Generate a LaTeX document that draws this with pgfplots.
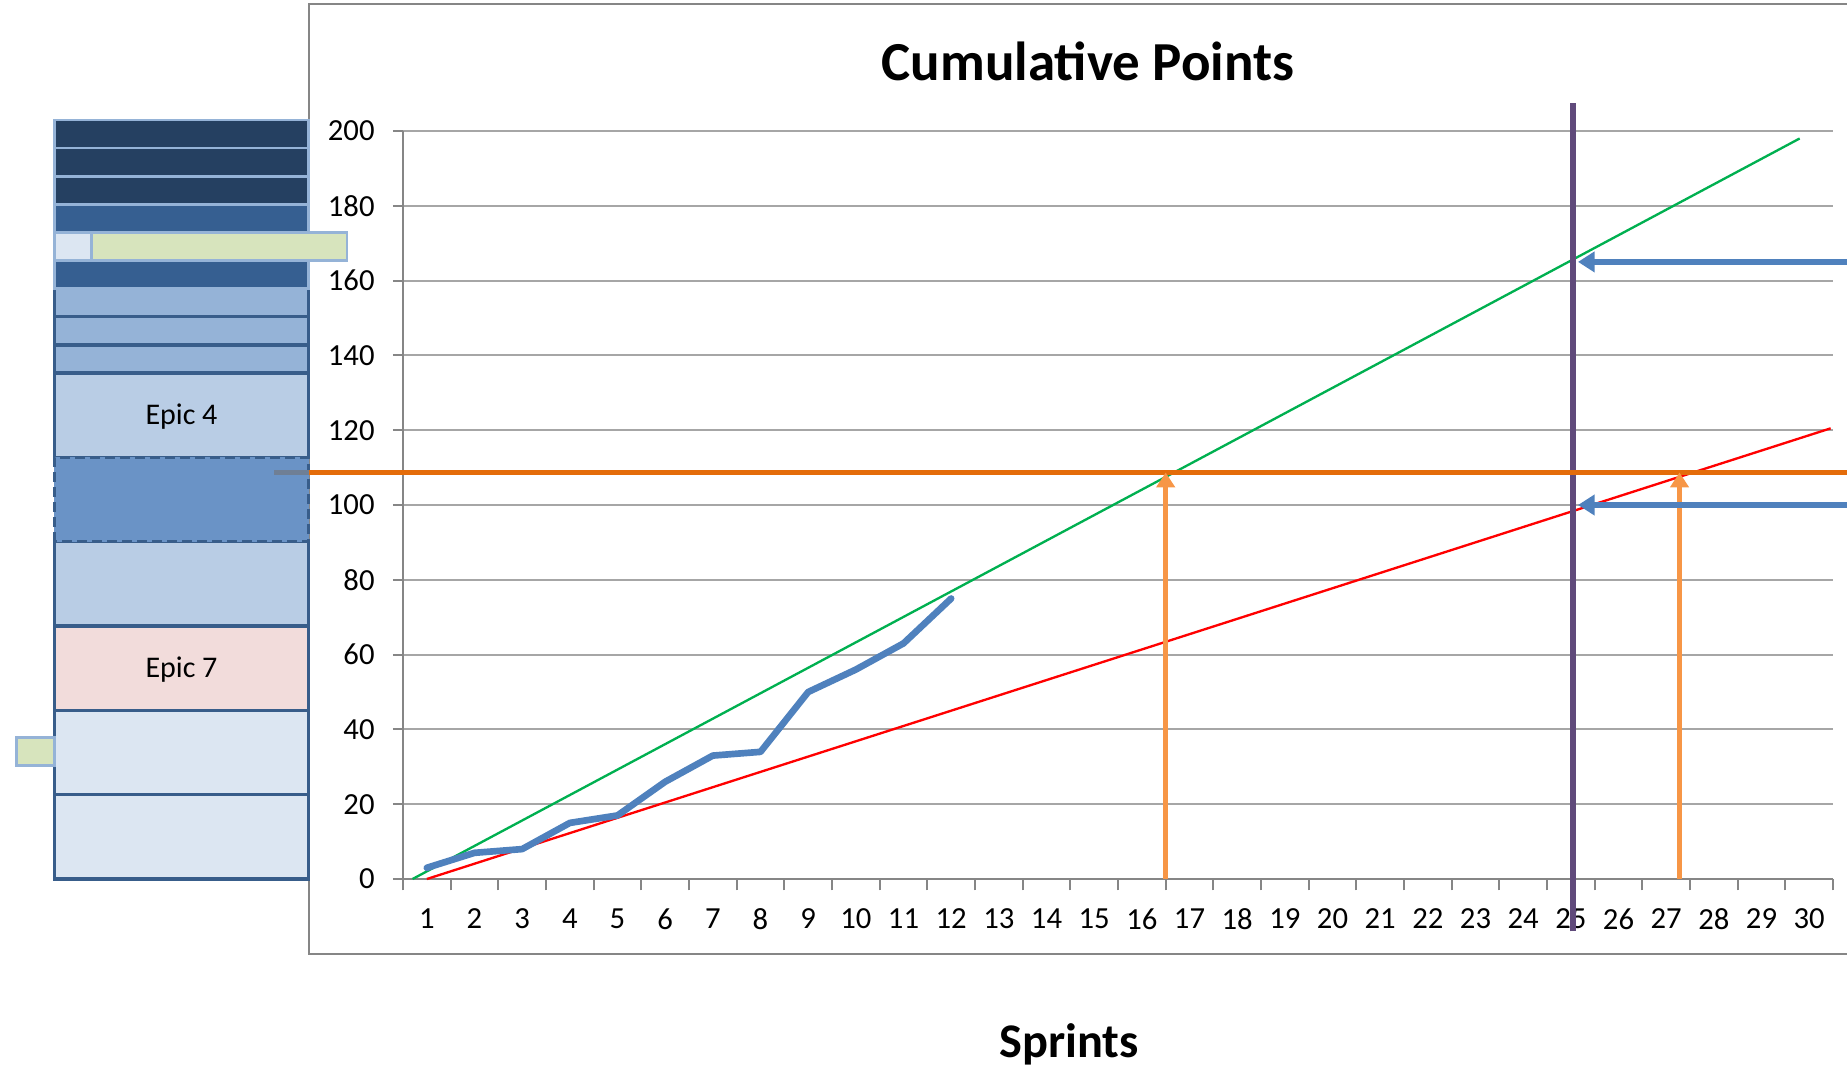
\documentclass[border=0pt]{standalone}
\usepackage{fontspec}
\setmainfont{Carlito}
\usepackage{pgfplots}
\pgfplotsset{compat=1.18}
\usetikzlibrary{arrows.meta}

\definecolor{framegray}{HTML}{868686}
\definecolor{gridgray}{HTML}{A6A6A6}
\definecolor{xlblue}{HTML}{4F81BD}
\definecolor{xlgreen}{HTML}{00B050}
\definecolor{xlred}{HTML}{FF0000}
\definecolor{xlorange}{HTML}{E46C0A}
\definecolor{xlorangelt}{HTML}{F79646}
\definecolor{xlpurple}{HTML}{604A7B}
\definecolor{navy}{HTML}{254061}
\definecolor{darkblue}{HTML}{365F91}
\definecolor{midblue}{HTML}{95B3D7}
\definecolor{ltblue}{HTML}{B9CDE5}
\definecolor{paleblue}{HTML}{DCE6F2}
\definecolor{dashblue}{HTML}{6A93C6}
\definecolor{pink}{HTML}{F2DCDB}
\definecolor{ltgreen}{HTML}{D7E4BD}
\definecolor{edgedark}{HTML}{385D8A}
\definecolor{connector}{HTML}{6F7F95}

\begin{document}
\begin{tikzpicture}
  % chart frame
  \draw[framegray, line width=0.6pt] (92.6pt,33.6pt) rectangle (620pt,318.75pt);

  \begin{axis}[
      at={(120.9pt,56.1pt)}, anchor=south west,
      scale only axis, width=429pt, height=224.4pt,
      xmin=0.5, xmax=30.5, ymin=0, ymax=200,
      enlargelimits=false, clip=false,
      axis x line=bottom, axis y line=left,
      axis line style={-, draw=framegray, line width=0.6pt},
      xtick={1,...,30},
      minor xtick={0.5,1.5,...,30.5},
      ytick={0,20,...,200},
      ymajorgrids,
      grid style={gridgray, line width=0.6pt},
      tick align=outside,
      tick style={framegray, line width=0.6pt},
      major tick length=3pt,
      minor tick length=3.4pt,
      every major x tick/.append style={draw=none},
      tick label style={font=\fontsize{9.2}{11}\selectfont, text=black},
      /pgf/number format/assume math mode=true,
      xticklabel style={yshift=-2.4pt},
      yticklabel style={xshift=-2pt},
    ]

    % left backlog stack
    \def\xL{-6.815}
    \def\xR{-1.479}
    \filldraw[fill=paleblue, draw=edgedark, line width=1pt] (axis cs:\xL,0) rectangle (axis cs:\xR,22.55);
    \filldraw[fill=paleblue, draw=edgedark, line width=1pt] (axis cs:\xL,22.55) rectangle (axis cs:\xR,45.1);
    \filldraw[fill=pink, draw=edgedark, line width=1pt] (axis cs:\xL,45.1) rectangle (axis cs:\xR,67.65);
    \filldraw[fill=ltblue, draw=edgedark, line width=1pt] (axis cs:\xL,67.65) rectangle (axis cs:\xR,90.2);
    \filldraw[fill=ltblue, draw=edgedark, line width=1pt] (axis cs:\xL,112.75) rectangle (axis cs:\xR,135.3);
    \filldraw[fill=dashblue, draw=edgedark, line width=1pt, dash pattern=on 3pt off 1.5pt] (axis cs:\xL,90.2) rectangle (axis cs:\xR,112.75);
    \filldraw[fill=midblue, draw=edgedark, line width=1pt] (axis cs:\xL,135.3) rectangle (axis cs:\xR,142.82);
    \filldraw[fill=midblue, draw=edgedark, line width=1pt] (axis cs:\xL,142.82) rectangle (axis cs:\xR,150.33);
    \filldraw[fill=midblue, draw=edgedark, line width=1pt] (axis cs:\xL,150.33) rectangle (axis cs:\xR,157.85);
    \filldraw[fill=darkblue, draw=midblue, line width=0.8pt] (axis cs:\xL,157.85) rectangle (axis cs:\xR,165.37);
    \filldraw[fill=darkblue, draw=midblue, line width=0.8pt] (axis cs:\xL,172.88) rectangle (axis cs:\xR,180.4);
    \filldraw[fill=navy, draw=midblue, line width=0.8pt] (axis cs:\xL,180.4) rectangle (axis cs:\xR,187.92);
    \filldraw[fill=navy, draw=midblue, line width=0.8pt] (axis cs:\xL,187.92) rectangle (axis cs:\xR,195.43);
    \filldraw[fill=navy, draw=midblue, line width=0.8pt] (axis cs:\xL,195.43) rectangle (axis cs:\xR,202.95);
    \filldraw[fill=paleblue, draw=midblue, line width=0.8pt] (axis cs:\xL,165.37) rectangle (axis cs:-6.04,172.88);
    \filldraw[fill=ltgreen, draw=midblue, line width=0.8pt] (axis cs:-6.04,165.37) rectangle (axis cs:-0.674,172.88);
    \filldraw[fill=ltgreen, draw=midblue, line width=0.8pt] (axis cs:-7.61,30.3) rectangle (axis cs:\xL,37.8);
    \node[font=\fontsize{9}{10}\selectfont] at (axis cs:-4.147,123.6) {Epic 4};
    \node[font=\fontsize{9}{10}\selectfont] at (axis cs:-4.147,56.0) {Epic 7};

    % trend lines
    \addplot[xlgreen, line width=0.7pt, no markers] coordinates {(0.7,0) (29.8,198)};
    \addplot[xlred, line width=0.7pt, no markers] coordinates {(1,0) (30.45,120.5)};

    % cumulative points
    \addplot[xlblue, line width=2pt, line join=round, line cap=round, no markers] coordinates {
      (1,3) (2,7) (3,8) (4,15) (5,17) (6,26) (7,33) (8,34) (9,50) (10,56) (11,63) (12,75)
    };

    % release marker and scope line
    \addplot[xlpurple, line width=1.8pt, no markers] coordinates {(25.05,-14) (25.05,207.6)};
    \addplot[connector, line width=1.5pt, no markers] coordinates {(-2.2,108.7) (-1.479,108.7)};
    \addplot[xlorange, line width=1.6pt, no markers] coordinates {(-1.479,108.7) (31.5,108.7)};

    % arrows
    \addplot[xlorangelt, line width=1.4pt, no markers, -{Triangle[width=5.5pt,length=4.5pt]}] coordinates {(16.5,0) (16.5,108.7)};
    \addplot[xlorangelt, line width=1.4pt, no markers, -{Triangle[width=5.5pt,length=4.5pt]}] coordinates {(27.28,0) (27.28,108.7)};
    \addplot[xlblue, line width=1.8pt, no markers, -{Triangle[width=6pt,length=5pt]}] coordinates {(31.5,165) (25.15,165)};
    \addplot[xlblue, line width=1.8pt, no markers, -{Triangle[width=6pt,length=5pt]}] coordinates {(31.5,100) (25.15,100)};
  \end{axis}

  \node[anchor=base, font=\fontsize{16.5}{19}\selectfont\bfseries] at (326.4pt,295.8pt) {Cumulative Points};
  \node[anchor=base, font=\fontsize{14.5}{17}\selectfont\bfseries] at (320.7pt,2.6pt) {Sprints};

  \pgfresetboundingbox
  \path[use as bounding box] (0pt,0pt) rectangle (554.1pt,319.8pt);
\end{tikzpicture}
\end{document}
